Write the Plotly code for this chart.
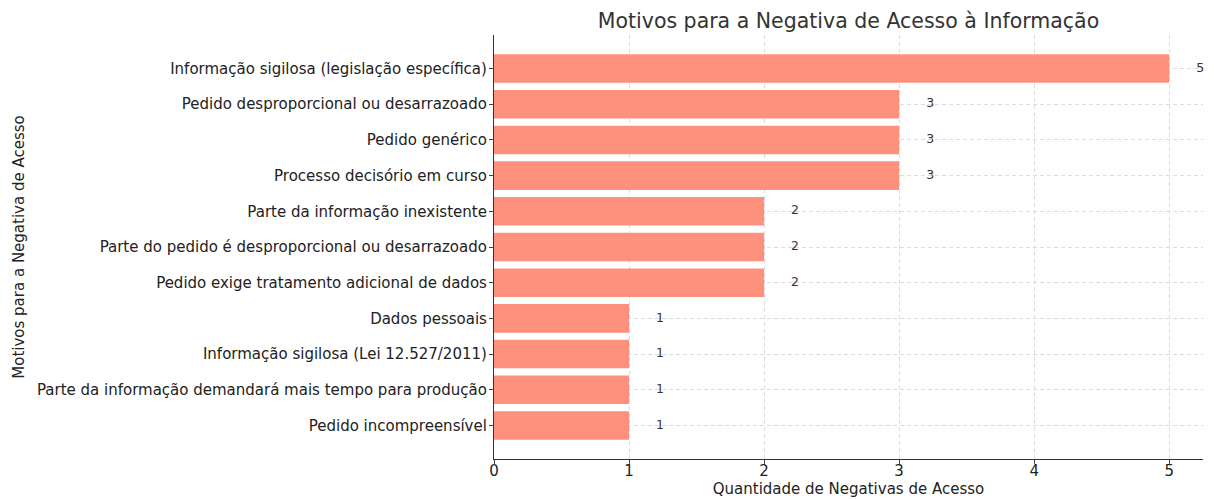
import plotly.graph_objects as go

categories = [
    "Informação sigilosa (legislação específica)",
    "Pedido desproporcional ou desarrazoado",
    "Pedido genérico",
    "Processo decisório em curso",
    "Parte da informação inexistente",
    "Parte do pedido é desproporcional ou desarrazoado",
    "Pedido exige tratamento adicional de dados",
    "Dados pessoais",
    "Informação sigilosa (Lei 12.527/2011)",
    "Parte da informação demandará mais tempo para produção",
    "Pedido incompreensível",
]
values = [5, 3, 3, 3, 2, 2, 2, 1, 1, 1, 1]
x_ticks = [0, 1, 2, 3, 4, 5]

FONT = "DejaVu Sans"
fig = go.Figure()
fig.add_trace(go.Bar(
    y=list(range(len(categories))), x=values, orientation="h",
    width=0.8, marker=dict(color="#FE917D", line=dict(width=0)),
    hoverinfo="x+y", showlegend=False,
))
fig.add_trace(go.Scatter(
    x=[v + 0.2 for v in values], y=list(range(len(categories))),
    mode="text", text=[str(v) for v in values], textposition="middle right",
    textfont=dict(family=FONT, size=12.5, color="#333333"), showlegend=False,
    hoverinfo="skip", cliponaxis=False,
))
grid = dict(showgrid=True, gridcolor="#dcdcdc", griddash="4px,3px", gridwidth=1)
fig.update_layout(
    width=1214, height=499,
    margin=dict(l=494, r=11, t=35, b=40, autoexpand=False),
    paper_bgcolor="white", plot_bgcolor="white",
    font=dict(family=FONT, size=15, color="#222222"),
    title=dict(text="Motivos para a Negativa de Acesso à Informação",
               xref="paper", x=0.5, xanchor="center",
               yref="container", y=1 - 21 / 499, yanchor="middle",
               font=dict(family=FONT, size=20.5, color="#333333")),
    xaxis=dict(range=[0, 5.25], tickvals=x_ticks, ticks="outside", ticklen=4,
               showline=True, linecolor="#333333", linewidth=1.2, zeroline=False,
               tickfont=dict(size=15), automargin=False, ticklabelstandoff=-6,
               title=dict(text="Quantidade de Negativas de Acesso", font=dict(size=15), standoff=2),
               **grid),
    yaxis=dict(range=[10.94, -0.94], tickvals=list(range(len(categories))),
               ticktext=categories, ticks="outside", ticklen=4,
               showline=True, linecolor="#333333", linewidth=1.2, zeroline=False,
               tickfont=dict(size=15), automargin=False, ticklabelstandoff=-1,
               title=dict(text="Motivos para a Negativa de Acesso", font=dict(size=15), standoff=8),
               **grid),
)
fig.write_html("out.html", config={"displayModeBar": False},
               post_script="document.body.style.margin='0';document.body.style.overflow='hidden';")
